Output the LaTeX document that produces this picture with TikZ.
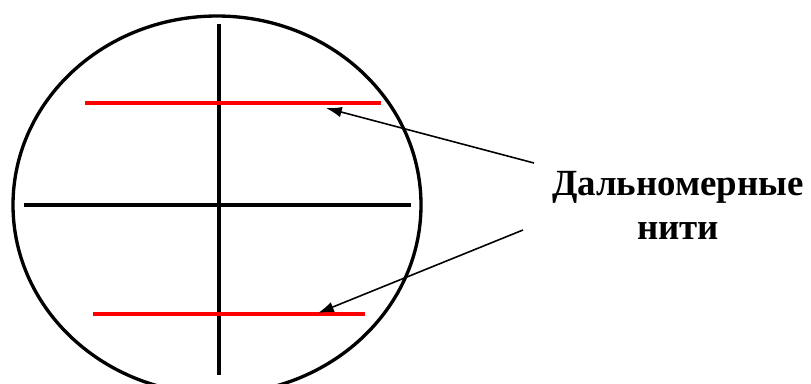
\documentclass[tikz,border=0pt]{standalone}
\usepackage{fontspec}
\setmainfont{Liberation Serif}
\usepackage{tikz}
\usetikzlibrary{positioning, arrows.meta}

\begin{document}
\begin{tikzpicture}[
  x=0.02cm, y=-0.02cm,
  font=\bfseries\fontsize{21}{25}\selectfont,
  cross/.style={line width=1.9pt, black},
  thread/.style={line width=1.9pt, red},
  arrow/.style={-{Latex[length=9pt, width=6pt]}, line width=0.9pt},
  lbl/.style={align=center, inner sep=0pt},
]
  \useasboundingbox (0,0) rectangle (811,383);
  \clip (0,0) rectangle (811,383);

  % Field of view
  \draw[line width=1.9pt] (217,205) ellipse [x radius=204, y radius=189];

  % Cross hairs
  \draw[cross] (219,24) -- (219,375);
  \draw[cross] (24,205) -- (411,205);

  % Stadia threads (red)
  \draw[thread] (85,103) -- (381,103);
  \draw[thread] (93,314) -- (365,314);

  % Label
  \node[lbl] (name) at (678,205) {Дальномерные\\нити};

  % Arrow ends
  \coordinate (upA) at (534,163);
  \coordinate (loA) at (523,230);
  \coordinate (upT) at (326,108);
  \coordinate (loT) at (318,313);

  \draw[arrow] (upA) -- (upT);
  \draw[arrow] (loA) -- (loT);
\end{tikzpicture}
\end{document}
